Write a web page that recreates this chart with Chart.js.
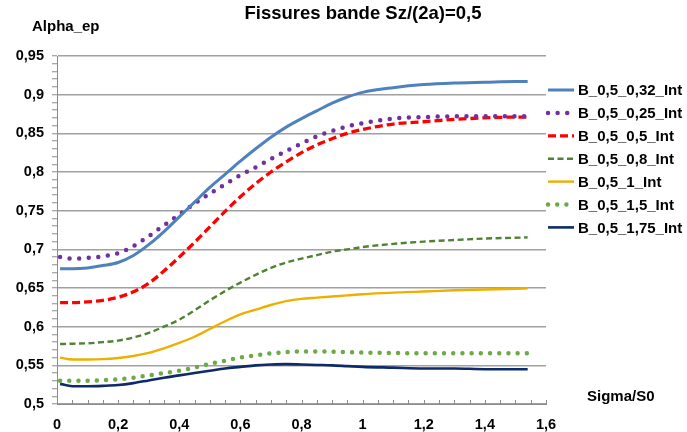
<!DOCTYPE html>
<html>
<head>
<meta charset="utf-8">
<script src="https://cdn.jsdelivr.net/npm/chart.js@4"></script>
<style>
  body { margin: 0; background: #fff; }
  #myChart { display: block; }
</style>
</head>
<body>
<canvas id="myChart" width="687" height="432"></canvas>
<script>
const sigma = [0.01, 0.05, 0.1, 0.15, 0.2, 0.25, 0.3, 0.35, 0.4, 0.45, 0.5, 0.55, 0.6, 0.65, 0.7, 0.75, 0.8, 0.85, 0.9, 0.95, 1.0, 1.1, 1.2, 1.3, 1.4, 1.5, 1.54]

const b_032 = [0.675, 0.675, 0.676, 0.679, 0.683, 0.692, 0.706, 0.723, 0.742, 0.761, 0.780, 0.797, 0.814, 0.830, 0.845, 0.858, 0.869, 0.879, 0.889, 0.897, 0.903, 0.909, 0.913, 0.915, 0.916, 0.917, 0.917]
const b_025 = [0.690, 0.688, 0.689, 0.691, 0.695, 0.704, 0.717, 0.731, 0.745, 0.759, 0.772, 0.784, 0.796, 0.806, 0.817, 0.827, 0.837, 0.846, 0.853, 0.859, 0.863, 0.869, 0.871, 0.872, 0.872, 0.872, 0.872]
const b_05 = [0.631, 0.631, 0.632, 0.634, 0.638, 0.645, 0.656, 0.672, 0.690, 0.709, 0.729, 0.749, 0.768, 0.785, 0.800, 0.813, 0.825, 0.835, 0.843, 0.850, 0.855, 0.862, 0.865, 0.868, 0.870, 0.871, 0.871]
const b_08 = [0.5775, 0.578, 0.5785, 0.580, 0.582, 0.586, 0.592, 0.600, 0.609, 0.621, 0.634, 0.646, 0.657, 0.667, 0.676, 0.683, 0.688, 0.6925, 0.697, 0.700, 0.703, 0.707, 0.710, 0.712, 0.714, 0.715, 0.7155]
const b_1 = [0.560, 0.5575, 0.5575, 0.558, 0.5595, 0.562, 0.566, 0.572, 0.579, 0.587, 0.597, 0.607, 0.616, 0.622, 0.628, 0.633, 0.636, 0.6375, 0.639, 0.6405, 0.642, 0.644, 0.6455, 0.647, 0.648, 0.649, 0.6495]
const b_15 = [0.530, 0.530, 0.530, 0.531, 0.532, 0.534, 0.537, 0.540, 0.543, 0.547, 0.552, 0.556, 0.560, 0.563, 0.5655, 0.567, 0.568, 0.568, 0.5675, 0.567, 0.5665, 0.566, 0.5655, 0.5655, 0.5655, 0.5655, 0.5655]
const b_175 = [0.526, 0.523, 0.523, 0.5235, 0.5245, 0.527, 0.5305, 0.534, 0.537, 0.540, 0.543, 0.546, 0.548, 0.550, 0.551, 0.5515, 0.551, 0.5505, 0.550, 0.549, 0.548, 0.547, 0.546, 0.546, 0.545, 0.545, 0.545]

const seriesNames = ["B_0,5_0,32_Int", "B_0,5_0,25_Int", "B_0,5_0,5_Int", "B_0,5_0,8_Int", "B_0,5_1_Int", "B_0,5_1,5_Int", "B_0,5_1,75_Int"]
const title = "Fissures bande Sz/(2a)=0,5"
const yTitle = "Alpha_ep"
const xTitle = "Sigma/S0"

const FONT = "'Liberation Sans', Arial, sans-serif"
const comma = v => String(+v.toFixed(2)).replace('.', ',')
const pts = ys => sigma.map((x, i) => ({ x: x, y: ys[i] }))

function line(label, ys, color, width, dash, cap) {
  return {
    label: label,
    data: pts(ys),
    borderColor: color,
    backgroundColor: color,
    borderWidth: width,
    borderDash: dash,
    borderCapStyle: cap,
    pointRadius: 0,
    fill: false,
    cubicInterpolationMode: 'monotone'
  }
}

const datasets = [
  line(seriesNames[0], b_032, '#4F81BD', 3, [], 'butt'),
  line(seriesNames[1], b_025, '#7030A0', 4.5, [0, 9.6], 'round'),
  line(seriesNames[2], b_05, '#FF0000', 3.3, [8, 4], 'butt'),
  line(seriesNames[3], b_08, '#4F8233', 2.4, [6, 3.5], 'butt'),
  line(seriesNames[4], b_1, '#EDB000', 2.4, [], 'butt'),
  line(seriesNames[5], b_15, '#6BAA45', 4.5, [0, 9.2], 'round'),
  line(seriesNames[6], b_175, '#0D2A6B', 2.6, [], 'butt')
]

// texts, legend and the little x ticks pointing up
const extras = {
  id: 'extras',
  afterDraw(chart) {
    const ctx = chart.ctx
    const xs = chart.scales.x
    const area = chart.chartArea
    ctx.save()
    ctx.strokeStyle = '#8c8c8c'
    ctx.lineWidth = 1
    xs.ticks.forEach(t => {
      const px = Math.round(xs.getPixelForValue(t.value)) + 0.5
      ctx.beginPath()
      ctx.moveTo(px, area.bottom)
      ctx.lineTo(px, area.bottom - 4)
      ctx.stroke()
    })

    ctx.fillStyle = '#000'
    ctx.textBaseline = 'middle'
    ctx.textAlign = 'center'
    ctx.font = 'bold 18.5px ' + FONT
    ctx.fillText(title, 363, 14)
    ctx.textAlign = 'left'
    ctx.font = 'bold 15px ' + FONT
    ctx.fillText(yTitle, 32, 27)
    ctx.fillText(xTitle, 587, 397)

    chart.data.datasets.forEach((ds, i) => {
      const y = 90 + i * 22.9
      ctx.save()
      ctx.strokeStyle = ds.borderColor
      ctx.lineWidth = ds.borderWidth
      ctx.setLineDash(ds.borderDash)
      ctx.lineCap = ds.borderCapStyle
      ctx.beginPath()
      ctx.moveTo(548, y)
      ctx.lineTo(574, y)
      ctx.stroke()
      ctx.restore()
      ctx.fillStyle = '#000'
      ctx.font = 'bold 15px ' + FONT
      ctx.fillText(ds.label, 578, y + 1)
    })
    ctx.restore()
  }
}

const isMajorY = v => Math.round(v * 100) % 5 === 0
const isMajorX = v => Math.round(v * 100) % 20 === 0

new Chart(document.getElementById('myChart'), {
  type: 'line',
  data: { datasets: datasets },
  options: {
    responsive: false,
    animation: false,
    layout: { padding: { left: 0, top: 56, right: 141, bottom: 0 } },
    plugins: { legend: { display: false }, tooltip: { enabled: false } },
    scales: {
      x: {
        type: 'linear',
        min: 0,
        max: 1.6,
        afterFit(scale) { scale.height = 28 },
        border: { display: true, color: '#8c8c8c', width: 1 },
        grid: { drawOnChartArea: false, drawTicks: false },
        ticks: {
          stepSize: 0.05,
          autoSkip: false,
          maxRotation: 0,
          padding: 12,
          color: '#000',
          font: { family: FONT, size: 14.5, weight: 'bold' },
          callback: v => isMajorX(v) ? comma(v) : ''
        }
      },
      y: {
        min: 0.5,
        max: 0.95,
        afterFit(scale) { scale.width = 57 },
        border: { display: true, color: '#8c8c8c', width: 1 },
        grid: {
          color: c => isMajorY(c.tick.value) ? '#a0a0a0' : 'rgba(0,0,0,0)',
          lineWidth: 1.5,
          tickLength: 5,
          tickColor: '#8c8c8c',
          tickWidth: 1
        },
        ticks: {
          stepSize: 0.01,
          autoSkip: false,
          padding: 8,
          color: '#000',
          font: { family: FONT, size: 14.5, weight: 'bold' },
          callback: v => isMajorY(v) ? comma(v) : ''
        }
      }
    }
  },
  plugins: [extras]
})
</script>
</body>
</html>
